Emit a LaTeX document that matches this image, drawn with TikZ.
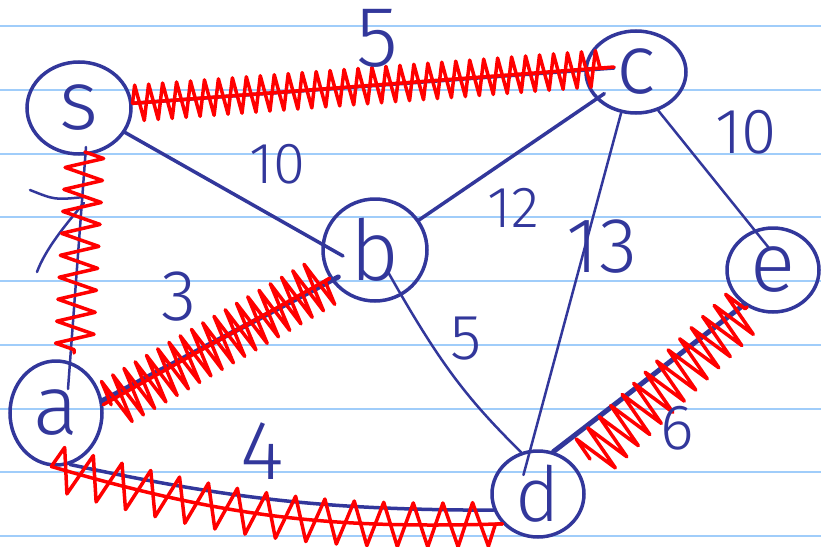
\documentclass[tikz,border=0pt]{standalone}
\usepackage{fontspec}
\newfontfamily\handfont{Fira Sans Light}
\usepackage{tikz}
\usetikzlibrary{shapes.geometric, decorations.pathmorphing, calc}
\definecolor{myink}{RGB}{50,55,155}
\definecolor{myred}{RGB}{255,0,0}
\definecolor{rulecol}{RGB}{160,205,250}
\tikzset{
  vertex/.style={ellipse, draw=myink, line width=3.5pt, inner sep=0pt,
    text=myink, font=\handfont\fontsize{84}{84}\selectfont},
  inkline/.style={myink, line width=3.5pt, line cap=round},
  thinline/.style={myink, line width=2.5pt, line cap=round},
  redline/.style={myred, line width=3.5pt, line cap=round},
  scribble/.style={myred, line width=3.5pt, line join=round, line cap=round, decorate},
  weight/.style={text=myink, inner sep=0pt, font=\handfont\fontsize{#1}{#1}\selectfont}
}
\begin{document}
\begin{tikzpicture}[x=1pt, y=-1pt]
  % Lined paper
  \useasboundingbox (0,0) rectangle (821,546);
  \fill[white] (0,0) rectangle (821,546);
  \foreach \k in {0,...,8}
    \draw[rulecol, line width=2pt] (0,{26+63.75*\k}) -- (821,{26+63.75*\k});

  % Vertices
  \node[vertex, minimum width=104pt, minimum height=92pt] (s) at (79,108) {s};
  \node[vertex, minimum width=100pt, minimum height=82pt] (c) at (636,72) {c};
  \node[vertex, minimum width=104pt, minimum height=102pt] (b) at (375,250) {b};
  \node[vertex, minimum width=92pt, minimum height=84pt] (e) at (773,270) {e};
  \node[vertex, minimum width=92pt, minimum height=104pt] (a) at (56,413) {a};
  \node[vertex, minimum width=92pt, minimum height=86pt,
    font=\handfont\fontsize{76}{76}\selectfont] (d) at (538,494) {d};

  % Edges
  \draw[inkline] (s.5) -- ($(c.center)+(-22,-4)$);
  \draw[inkline] (s.-28) -- ($(b.center)+(-32,6)$);
  \draw[thinline] ($(s.center)+(7,39)$) -- ($(a.center)+(12,-24)$);
  \draw[inkline, line width=5pt, shorten >=-8pt] (a.15) -- (b.215);
  \draw[inkline, shorten >=-10pt] (b) -- (c);
  \draw[thinline, shorten >=-26pt] (c.250) -- (d.100);
  \draw[thinline, shorten >=-25pt] (c.-60) -- (e.115);
  \draw[thinline, shorten <=-30pt] (b.-60) to[bend right=8] (d.112);
  \draw[inkline] (a.-75) to[bend right=6] (d.200);
  \draw[inkline, line width=5pt] (d.70) -- (e.230);

  % Crossed-out mark
  \draw[thinline] (30,190) .. controls (55,200) .. (84,197);
  \draw[thinline] (84,203) .. controls (65,225) and (45,250) .. (37,272);

  % Spanning tree (red scribbles)
  \draw[redline] (s.5) -- ($(c.center)+(-22,-5)$);
  \draw[scribble, decoration={zigzag, segment length=14pt, amplitude=18pt}]
    (s.5) -- ($(c.center)+(-30,-4)$);
  \draw[scribble, decoration={zigzag, segment length=22pt, amplitude=19pt}]
    ($(s.center)+(6,44)$) -- ($(a.center)+(18,-60)$);
  \draw[redline] (a.10) -- (b.212);
  \draw[scribble, decoration={zigzag, segment length=13pt, amplitude=25pt}]
    ($(a.10)+(8,0)$) -- (b.212);
  \draw[redline] (a.-95) to[bend right=9] (d.220);
  \draw[scribble, decoration={zigzag, segment length=30pt, amplitude=22pt}]
    (a.-95) to[bend right=9] (d.220);
  \draw[scribble, decoration={zigzag, segment length=16pt, amplitude=24pt}]
    ($(d.center)+(52,-35)$) -- (e.235);

  % Weights
  \node[weight=86] (w-sc) at (377,38) {5};
  \node[weight=58] (w-sb) at (277,164) {10};
  \node[weight=58] (w-bc) at (513,208) {12};
  \node[weight=78] (w-cd) at (602,247) {13};
  \node[weight=64] (w-ce) at (746,132) {10};
  \node[weight=72] (w-ab) at (179,297) {3};
  \node[weight=64] (w-bd) at (466,339) {5};
  \node[weight=84] (w-ad) at (262,451) {4};
  \node[weight=64] (w-de) at (677,428) {6};
\end{tikzpicture}
\end{document}
